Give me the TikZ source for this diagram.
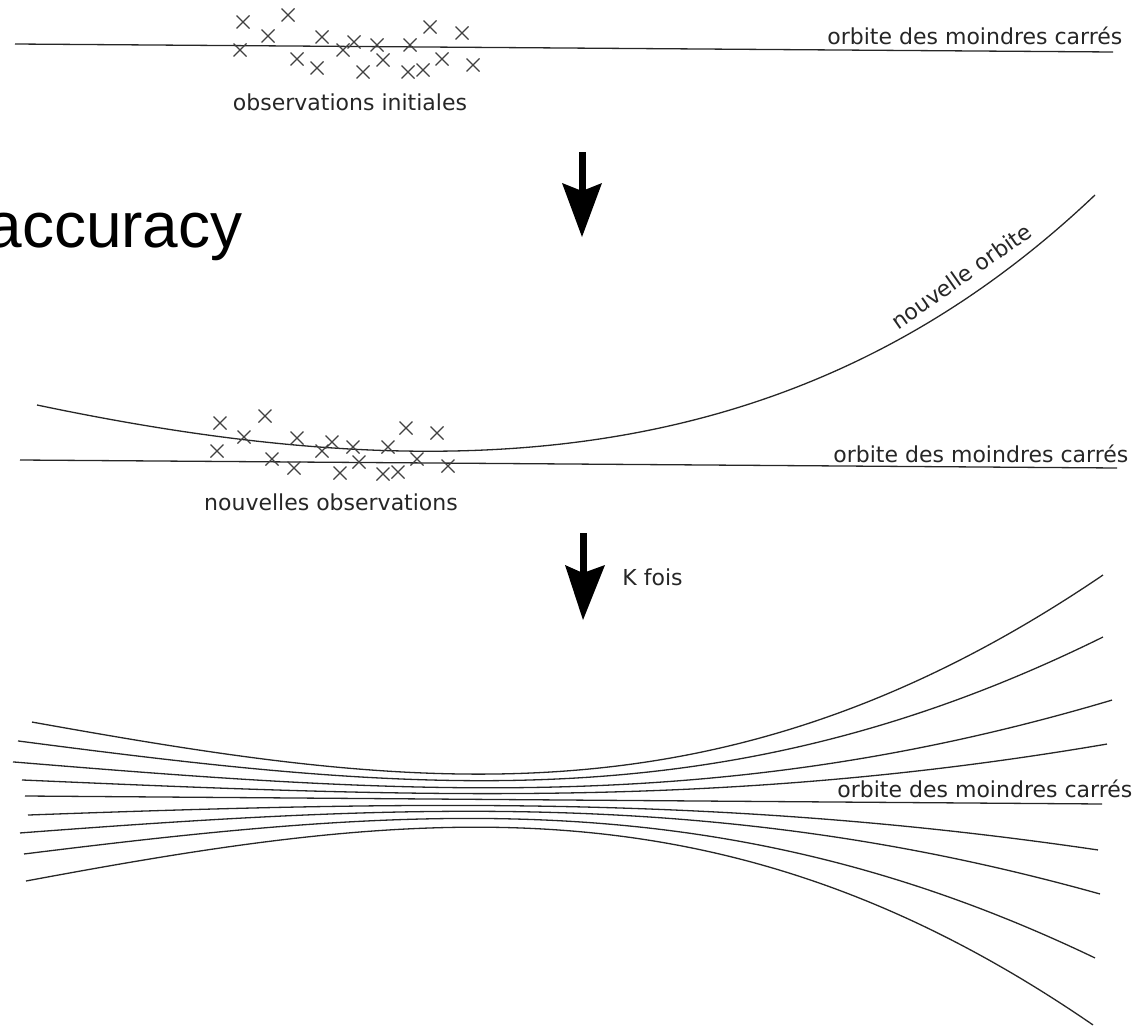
\documentclass[tikz,border=0pt]{standalone}
\usepackage{fontspec}
\setmainfont{DejaVu Sans}
\newfontfamily\arialf{Liberation Sans}
\begin{document}
\begin{tikzpicture}[x=0.5pt,y=-0.5pt,
  orbit/.style={line width=0.65pt, draw=black!85},
  lbl/.style={inner sep=0pt, text=black!85, font=\fontsize{11}{13}\selectfont},
  obsline/.style={line width=0.6pt, draw=black!75},
  shaft/.style={line width=3.5pt, draw=black},
  headfill/.style={fill=black}]
\tikzset{xmark/.pic={\draw[obsline] (-6.5,-6.5) -- (6.5,6.5) (-6.5,6.5) -- (6.5,-6.5);}}
\useasboundingbox (0,0) rectangle (1148,1028);

% ---------- panel 1 ----------
\draw[orbit] (15,44) -- (1113,52);
\foreach \a/\b in {243/22, 288/15, 268/36, 240/50, 322/37, 297/59, 317/68, 354/42, 343/50, 377/45, 383/60, 363/72, 410/45, 430/27, 462/33, 408/72, 423/70, 442/59, 473/65}
  \pic at (\a,\b) {xmark};
\node[lbl, anchor=base west] (lsq1) at (827,45) {orbite des moindres carrés};
\node[lbl, anchor=base] (obs1) at (350,111) {observations initiales};

% arrow 1
\draw[shaft] (582,152) -- (582,196);
\fill[headfill] (562,183) -- (582,191) -- (602,183) -- (582,237) -- cycle;

\node[anchor=base east, inner sep=0pt, font=\arialf\fontsize{32}{38}\selectfont] (acc) at (243,247) {accuracy};

% ---------- panel 2 ----------
\draw[orbit] (20,460) -- (1117,468);
\draw[orbit] (37,405) .. controls (437,489) and (795,480) .. (1095,195);
\foreach \a/\b in {220/423, 265/416, 244/437, 217/451, 297/438, 272/459, 294/468, 332/442, 322/451, 353/447, 359/462, 340/473, 388/447, 406/428, 437/433, 383/474, 398/472, 417/459, 448/466}
  \pic at (\a,\b) {xmark};
\node[lbl, anchor=base west] (lsq2) at (833,462) {orbite des moindres carrés};
\node[lbl, anchor=base] (obs2) at (331,510) {nouvelles observations};
\node[lbl, anchor=base, rotate=35] (newo) at (966,283) {nouvelle orbite};

% arrow 2
\draw[shaft] (583,533) -- (583,578);
\fill[headfill] (565,565) -- (583,573) -- (605,565) -- (583,620) -- cycle;
\node[lbl, anchor=base west] (kf) at (622,585) {K fois};

% ---------- panel 3 ----------
\draw[orbit] (25,796) -- (1102,804);
\foreach \xl/\Li/\xr/\Ri in {32/-74/1103/-229, 18/-55/1103/-167, 13/-34/1112/-104, 22/-16/1107/-60, 28/19/1098/46, 20/37/1100/90, 24/58/1095/154, 26/85/1093/221}{
  \pgfmathsetmacro\ya{796+0.00743*(\xl-25)+(\Li)}
  \pgfmathsetmacro\yb{798.9+0.12*(\Li)}
  \pgfmathsetmacro\yc{801.2-0.14*(\Ri)}
  \pgfmathsetmacro\yd{796+0.00743*(\xr-25)+(\Ri)}
  \draw[orbit] (\xl,\ya) .. controls (412,\yb) and (723,\yc) .. (\xr,\yd);
}
\node[lbl, anchor=base west] (lsq3) at (837,797) {orbite des moindres carrés};
\end{tikzpicture}
\end{document}
